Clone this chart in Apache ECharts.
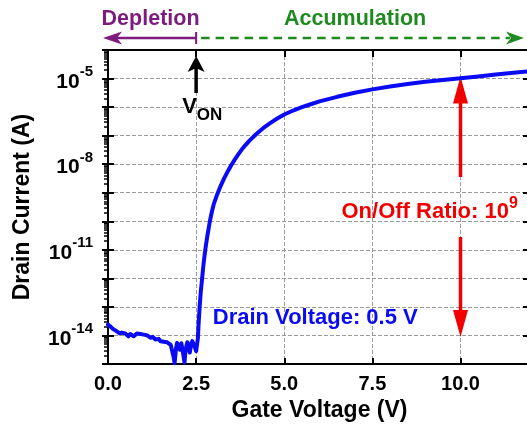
<!DOCTYPE html>
<html>
<head>
<meta charset="utf-8">
<script src="https://cdn.jsdelivr.net/npm/echarts@6/dist/echarts.min.js"></script>
<style>
  html, body { margin: 0; padding: 0; background: #fff; }
  #chart { width: 527px; height: 426px; }
</style>
</head>
<body>
<div id="chart"></div>
<script>
// Transfer curve: gate voltage (V) and log10 of drain current (A)
const gateVoltage = [
  0.00, 0.04, 0.08, 0.11, 0.15, 0.20, 0.24, 0.29, 0.33, 0.39,
  0.44, 0.49, 0.54, 0.58, 0.63, 0.68, 0.73, 0.77, 0.82, 0.87,
  0.92, 0.96, 1.01, 1.06, 1.12, 1.20, 1.27, 1.34, 1.39, 1.44,
  1.49, 1.53, 1.58, 1.63, 1.68, 1.72, 1.78, 1.82, 1.86, 1.89,
  1.93, 1.96, 2.00, 2.04, 2.08, 2.11, 2.14, 2.17, 2.20, 2.25,
  2.29, 2.32, 2.36, 2.39, 2.43, 2.46, 2.50, 2.52, 2.55, 2.57,
  2.60, 2.63, 2.67, 2.71, 2.76, 2.82, 2.89, 2.95, 3.00, 3.10,
  3.20, 3.30, 3.40, 3.50, 3.60, 3.70, 3.80, 3.90, 4.00, 4.20,
  4.40, 4.60, 4.80, 5.00, 5.25, 5.50, 5.75, 6.00, 6.50, 7.00,
  7.50, 8.00, 8.50, 9.00, 9.50, 10.00, 10.50, 11.00, 11.50, 12.00
];
const logDrainCurrent = [
  -13.62, -13.55, -13.70, -13.66, -13.78, -13.74, -13.85, -13.84, -13.93, -13.90,
  -13.86, -13.93, -13.98, -14.03, -13.95, -13.97, -14.03, -14.00, -13.93, -13.92,
  -13.95, -13.88, -13.97, -14.03, -14.00, -14.08, -14.05, -14.14, -14.08, -14.12,
  -14.20, -14.15, -14.22, -14.16, -14.24, -14.26, -14.33, -14.40, -14.75, -14.97,
  -14.45, -14.26, -14.40, -14.50, -14.27, -14.24, -14.70, -14.95, -14.50, -14.24,
  -14.45, -14.60, -14.30, -14.20, -14.30, -14.40, -14.55, -14.60, -14.10, -13.60,
  -13.00, -12.50, -12.00, -11.50, -11.00, -10.50, -10.00, -9.65, -9.40, -9.05,
  -8.75, -8.48, -8.25, -8.03, -7.83, -7.65, -7.48, -7.33, -7.19, -6.95,
  -6.74, -6.56, -6.40, -6.26, -6.12, -6.00, -5.90, -5.80, -5.64, -5.50,
  -5.38, -5.28, -5.19, -5.11, -5.05, -4.99, -4.93, -4.86, -4.80, -4.74
];

// Axis settings (decades of current, volts of gate bias)
const xTickStep = 2.5;
const yDecadeLabels = [-5, -8, -11, -14];
const minorMultipliers = [2, 3, 4, 5, 6, 7, 8, 9];

// Annotation values
const turnOnVoltage = 2.5;
const ratioVoltage = 10;
const onLevel = -5;
const offLevel = -14;
const drainBias = '0.5 V';

const FONT = 'Liberation Sans, Arial, sans-serif';
const GRID_STYLE = { color: '#9a9a9a', width: 1, type: [4, 2] };

const yMin = -15, yMax = -4, xMin = 0, xMax = 12;

const minorTicks = [];
for (let d = yMin; d < yMax; d++) {
  minorMultipliers.forEach(k => minorTicks.push(d + Math.log10(k)));
}

const points = gateVoltage.map((v, i) => [v, logDrainCurrent[i]]);

const chart = echarts.init(document.getElementById('chart'), null, { renderer: 'canvas' });

const yBase = { type: 'value', min: yMin, max: yMax, interval: 1, gridIndex: 0 };
const xBase = { type: 'value', min: xMin, max: xMax, interval: xTickStep, gridIndex: 0 };

chart.setOption({
  animation: false,
  backgroundColor: '#fff',
  grid: { left: 108, right: -4, top: 50, bottom: 62, outerBoundsMode: 'none', containLabel: false },
  xAxis: [
    Object.assign({}, xBase, {
      position: 'bottom',
      name: 'Gate Voltage (V)',
      nameLocation: 'middle',
      nameGap: 35,
      nameTextStyle: { fontFamily: FONT, fontWeight: 'bold', fontSize: 23, color: '#000' },
      axisLine: { show: true, onZero: false, lineStyle: { color: '#000', width: 2 } },
      axisTick: { show: true, inside: true, length: 6, lineStyle: { color: '#000', width: 2 } },
      axisLabel: {
        show: true, margin: 10, showMaxLabel: false,
        fontFamily: FONT, fontWeight: 'bold', fontSize: 20, color: '#000',
        formatter: v => v.toFixed(1)
      },
      splitLine: { show: true, lineStyle: GRID_STYLE }
    }),
    Object.assign({}, xBase, {
      position: 'top',
      axisLine: { show: true, onZero: false, lineStyle: { color: '#000', width: 2 } },
      axisTick: { show: true, inside: true, length: 7, lineStyle: { color: '#000', width: 2 } },
      axisLabel: { show: false },
      splitLine: { show: false }
    })
  ],
  yAxis: [
    Object.assign({}, yBase, {
      position: 'left',
      name: 'Drain Current (A)',
      nameLocation: 'middle',
      nameGap: 74,
      nameTextStyle: { fontFamily: FONT, fontWeight: 'bold', fontSize: 23, color: '#000' },
      axisLine: { show: true, onZero: false, lineStyle: { color: '#000', width: 2 } },
      axisTick: { show: true, inside: false, length: 6, lineStyle: { color: '#000', width: 2 } },
      axisLabel: {
        show: true, margin: 15,
        formatter: v => yDecadeLabels.indexOf(Math.round(v)) >= 0 && Math.abs(v - Math.round(v)) < 1e-6
          ? '{b|10}{s|' + Math.round(v) + '}' : '',
        rich: {
          b: { fontFamily: FONT, fontWeight: 'bold', fontSize: 21, color: '#000', lineHeight: 28, verticalAlign: 'bottom' },
          s: { fontFamily: FONT, fontWeight: 'bold', fontSize: 15, color: '#000', lineHeight: 28, verticalAlign: 'top' }
        }
      },
      splitLine: { show: true, lineStyle: GRID_STYLE }
    }),
    Object.assign({}, yBase, {
      position: 'left',
      axisLine: { show: false },
      axisTick: { show: true, inside: true, length: 6, lineStyle: { color: '#000', width: 2 } },
      axisLabel: { show: false },
      splitLine: { show: false }
    }),
    Object.assign({}, yBase, {
      position: 'left',
      axisLine: { show: false },
      axisTick: { show: true, inside: false, length: 4, customValues: minorTicks, lineStyle: { color: '#000', width: 1.5 } },
      axisLabel: { show: false },
      splitLine: { show: false }
    }),
    Object.assign({}, yBase, {
      position: 'right',
      axisLine: { show: true, onZero: false, lineStyle: { color: '#000', width: 2 } },
      axisTick: { show: true, inside: true, length: 8, lineStyle: { color: '#000', width: 2 } },
      axisLabel: { show: false },
      splitLine: { show: false }
    })
  ],
  series: [{
    type: 'line',
    xAxisIndex: 0,
    yAxisIndex: 0,
    data: points,
    showSymbol: false,
    smooth: false,
    clip: true,
    lineStyle: { color: '#0a0af5', width: 4, join: 'round', cap: 'round' }
  }]
});

// Annotations positioned through the axis scales
const px = (v, e) => chart.convertToPixel({ gridIndex: 0 }, [v, e]);
const [xOrigin, yTop] = px(xMin, yMax);
const [xOn] = px(turnOnVoltage, yMax);
const [xRatio, yOn] = px(ratioVoltage, onLevel);
const [, yOff] = px(ratioVoltage, offLevel);
const [xRight] = px(11.8, yMax);

const PURPLE = '#7d1b7e';
const GREEN = '#1f8a1f';
const RED = '#f20000';
const BLUE = '#0a0af5';

const bandY = yTop - 12;
const leftTip = xOrigin - 5;
const g = [];

// Depletion range arrow
g.push({ type: 'line', shape: { x1: leftTip + 12, y1: bandY, x2: xOn, y2: bandY }, style: { stroke: PURPLE, lineWidth: 2.5 } });
g.push({ type: 'line', shape: { x1: xOn, y1: bandY - 6, x2: xOn, y2: bandY + 6 }, style: { stroke: PURPLE, lineWidth: 2 } });
g.push({ type: 'polygon', shape: { points: [[leftTip, bandY], [leftTip + 19, bandY - 6.5], [leftTip + 14, bandY], [leftTip + 19, bandY + 6.5]] }, style: { fill: PURPLE } });
g.push({ type: 'text', x: (leftTip + xOn) / 2 + 1, y: 19, style: { text: 'Depletion', fill: PURPLE, font: 'bold 21.5px ' + FONT, align: 'center', verticalAlign: 'middle' } });

// Accumulation range arrow
g.push({ type: 'line', shape: { x1: xOn + 5, y1: bandY, x2: xRight - 14, y2: bandY }, style: { stroke: GREEN, lineWidth: 2.5, lineDash: [8.5, 6] } });
g.push({ type: 'polygon', shape: { points: [[xRight, bandY], [xRight - 18, bandY - 6.5], [xRight - 13, bandY], [xRight - 18, bandY + 6.5]] }, style: { fill: GREEN } });
g.push({ type: 'text', x: xOn + 159, y: 19, style: { text: 'Accumulation', fill: GREEN, font: 'bold 21.5px ' + FONT, align: 'center', verticalAlign: 'middle' } });

// Turn-on voltage marker
const vTip = yTop + 6;
g.push({ type: 'polygon', shape: { points: [[xOn, vTip], [xOn + 8.5, vTip + 16], [xOn + 2, vTip + 13], [xOn - 2, vTip + 13], [xOn - 8.5, vTip + 16]] }, style: { fill: '#000' } });
g.push({ type: 'line', shape: { x1: xOn, y1: vTip + 12, x2: xOn, y2: vTip + 37 }, style: { stroke: '#000', lineWidth: 3.5 } });
g.push({ type: 'text', x: xOn - 14, y: vTip + 54, style: {
  text: '{v|V}{s|ON}', align: 'left', verticalAlign: 'middle',
  rich: {
    v: { font: 'bold 22px ' + FONT, fill: '#000', lineHeight: 28, verticalAlign: 'top' },
    s: { font: 'bold 17px ' + FONT, fill: '#000', lineHeight: 28, verticalAlign: 'bottom' }
  }
} });

// On/off ratio arrows between the on and off current levels
const midY = (yOn + yOff) / 2 + 2;
const headLen = 27, headHalf = 7.5;
g.push({ type: 'polygon', shape: { points: [[xRatio, yOn - 2], [xRatio + headHalf, yOn - 2 + headLen], [xRatio - headHalf, yOn - 2 + headLen]] }, style: { fill: RED } });
g.push({ type: 'line', shape: { x1: xRatio, y1: yOn + headLen - 4, x2: xRatio, y2: midY - 32 }, style: { stroke: RED, lineWidth: 3.5 } });
g.push({ type: 'polygon', shape: { points: [[xRatio, yOff + 1.5], [xRatio + headHalf, yOff + 1.5 - headLen], [xRatio - headHalf, yOff + 1.5 - headLen]] }, style: { fill: RED } });
g.push({ type: 'line', shape: { x1: xRatio, y1: midY + 28, x2: xRatio, y2: yOff - headLen + 4 }, style: { stroke: RED, lineWidth: 3.5 } });
g.push({ type: 'text', x: xRatio - 119, y: midY, style: {
  text: '{m|On/Off Ratio: 10}{s|9}', align: 'left', verticalAlign: 'middle',
  rich: {
    m: { font: 'bold 22px ' + FONT, fill: RED, lineHeight: 27, verticalAlign: 'bottom' },
    s: { font: 'bold 16px ' + FONT, fill: RED, lineHeight: 27, verticalAlign: 'top' }
  }
} });

// Bias condition label
const [xBias, yBias] = px(3.0, -13.4);
g.push({ type: 'text', x: xBias - 1, y: yBias, style: { text: 'Drain Voltage: ' + drainBias, fill: BLUE, font: 'bold 22px ' + FONT, align: 'left', verticalAlign: 'middle' } });

chart.setOption({ graphic: g });
</script>
</body>
</html>
